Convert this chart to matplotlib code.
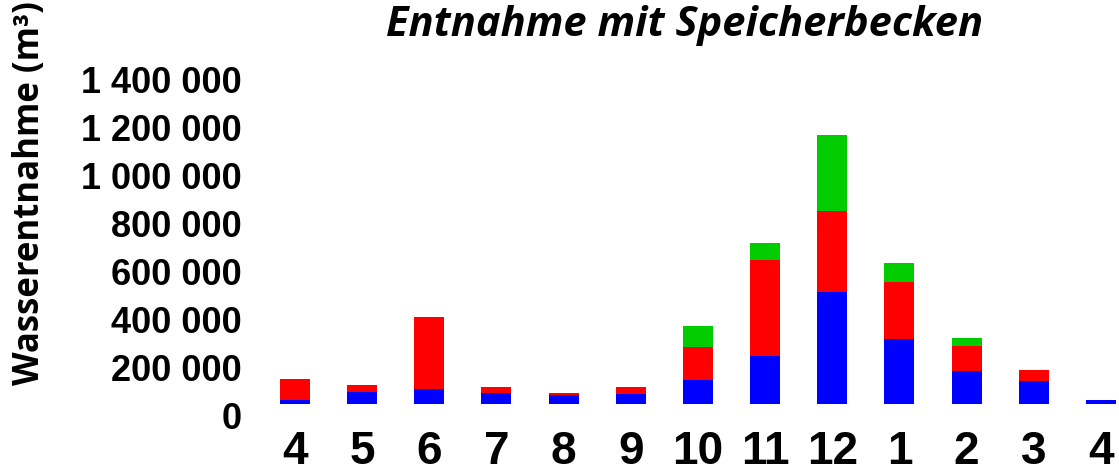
import matplotlib
matplotlib.use("Agg")
import matplotlib.pyplot as plt
import matplotlib.transforms as mtransforms

# months of the year (April to April)
months = ["4", "5", "6", "7", "8", "9", "10", "11", "12", "1", "2", "3", "4"]

# water withdrawal in m3, three stacked parts
blue = [17000, 49000, 62000, 44000, 38000, 42000, 101000, 200000, 469000, 271000, 138000, 96000, 17000]
red = [88000, 29000, 301000, 29000, 8000, 29000, 137000, 401000, 337000, 238000, 104000, 46000, 0]
green = [0, 0, 0, 0, 0, 0, 88000, 71000, 317000, 79000, 33000, 0, 0]

yticks = [0, 200000, 400000, 600000, 800000, 1000000, 1200000, 1400000]

fig = plt.figure(figsize=(11.19, 4.73), dpi=100)
ax = fig.add_axes([250 / 1119, 69 / 473, 869 / 1119, 354 / 473])

x = list(range(len(months)))
w = 0.447
red_bottom = blue
green_bottom = [b + r for b, r in zip(blue, red)]
ax.bar(x, blue, width=w, color="#0000ff")
ax.bar(x, red, width=w, bottom=red_bottom, color="#ff0000")
ax.bar(x, green, width=w, bottom=green_bottom, color="#00cc00")

ax.set_xlim(-0.67, 12.27)
ax.set_ylim(0, 354 / 239.5 * 1e6)

ax.set_xticks(x)
ax.set_xticklabels(months, fontsize=33, fontweight="bold", family="Liberation Sans")
ax.set_yticks(yticks)
ax.set_yticklabels([f"{v:,}".replace(",", " ") for v in yticks],
                   fontsize=26, fontweight="bold", family="Liberation Sans")
ax.tick_params(axis="x", length=0, pad=19)
ax.tick_params(axis="y", length=0, pad=6)

# tick labels sit a bit lower than the bar baseline
offset = mtransforms.ScaledTranslation(0, -11 / 100, fig.dpi_scale_trans)
for lab in ax.get_yticklabels():
    lab.set_transform(lab.get_transform() + offset)

for s in ax.spines.values():
    s.set_visible(False)

fig.text(685 / 1119, 1 - 26 / 473, "Entnahme mit Speicherbecken", ha="center", va="center",
         fontsize=30, fontweight="bold", style="italic", family="Open Sans")
fig.text(30 / 1119, 88 / 473, "Wasserentnahme (m³)", rotation=90, ha="center", va="bottom",
         fontsize=25, fontweight="bold", family="Open Sans")

fig.savefig("out.png", dpi=100)
